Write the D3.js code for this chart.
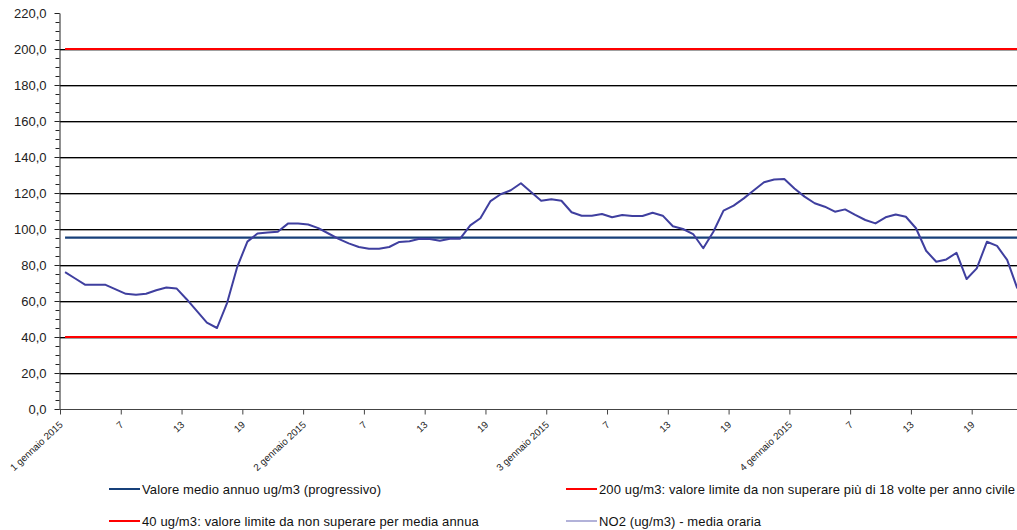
<!DOCTYPE html>
<html>
<head>
<meta charset="utf-8">
<script src="https://cdn.jsdelivr.net/npm/d3@7"></script>
<style>
  html, body { margin: 0; padding: 0; background: #fff; }
  svg { display: block; font-family: "Liberation Sans", Arial, sans-serif; }
</style>
</head>
<body>
<svg id="chart" width="1017" height="530"></svg>
<script>
// ---- Data ----
const days = [1, 2, 3, 4];
const hoursPerDay = 24;
const tickHours = [1, 7, 13, 19];
const yTicks = [0, 20, 40, 60, 80, 100, 120, 140, 160, 180, 200, 220];

// NO2 hourly average (ug/m3), from 1 gennaio 2015 h1 onward
const no2 = [
  76, 72.5, 69, 69, 69, 66.5, 64, 63.5, 64, 66, 67.5, 67,
  61, 54.5, 48, 45, 59, 79, 93, 97.5, 98, 98.5, 103, 103,
  102.5, 100.5, 97.5, 94.5, 92, 90, 89, 89, 90, 92.8, 93.2, 94.6,
  94.5, 93.5, 94.6, 94.6, 102, 106, 115.5, 119.3, 121.5, 125.4, 120.5, 115.7,
  116.5, 115.7, 109.3, 107.4, 107.4, 108.3, 106.5, 107.8, 107.2, 107.2, 109, 107.4,
  101.5, 100, 97.2, 89.3, 98.5, 110.2, 113, 117, 121.5, 126, 127.5, 127.8,
  122.5, 118, 114.3, 112.4, 109.6, 110.9, 107.8, 105, 103.1, 106.5, 108.1, 106.8,
  100.4, 87.9, 81.8, 83.1, 86.8, 72.2, 78.1, 92.9, 90.6, 82.8, 67
];
const annualMean = 95.2;     // Valore medio annuo (progressivo)
const limitHourly = 200;     // 200 ug/m3 limit
const limitAnnual = 40;      // 40 ug/m3 limit

const legendItems = [
  { label: "Valore medio annuo ug/m3 (progressivo)", color: "#17407a", width: 2 },
  { label: "200 ug/m3: valore limite da non superare più di 18 volte per anno civile", color: "#ff0000", width: 2 },
  { label: "40 ug/m3: valore limite da non superare per media annua", color: "#ff0000", width: 2 },
  { label: "NO2 (ug/m3)  - media oraria", color: "#7f7fc0", width: 1.2 }
];

// ---- Layout ----
const svg = d3.select("#chart");
const plotLeft = 60, plotTop = 13, plotBottom = 409;
const nCat = days.length * hoursPerDay;
const catW = 10.13;

const x = d3.scaleLinear().domain([0, nCat]).range([plotLeft, plotLeft + nCat * catW]);
const y = d3.scaleLinear().domain([0, 220]).range([plotBottom, plotTop]);

svg.append("rect").attr("width", 1017).attr("height", 530).attr("fill", "#fff");

// gridlines
const grid = svg.append("g");
yTicks.filter(d => d > 0 && d < 220).forEach(d => {
  grid.append("line").attr("x1", plotLeft).attr("x2", 1017)
    .attr("y1", Math.round(y(d)) + 1.5).attr("y2", Math.round(y(d)) + 1.5)
    .attr("stroke", "#a0a0a0").attr("stroke-width", 1);
  grid.append("line").attr("x1", plotLeft).attr("x2", 1017)
    .attr("y1", Math.round(y(d)) + 0.5).attr("y2", Math.round(y(d)) + 0.5)
    .attr("stroke", "#000").attr("stroke-width", 1);
});

// series
const idx = d3.range(no2.length + 1);
const constLine = v => d3.line().x(i => x(i + 0.5)).y(() => y(v))(idx);

svg.append("path").attr("d", constLine(limitAnnual))
  .attr("fill", "none").attr("stroke", "#ff0000").attr("stroke-width", 2);
svg.append("path").attr("d", constLine(limitHourly))
  .attr("fill", "none").attr("stroke", "#ff0000").attr("stroke-width", 2);
svg.append("path").attr("d", constLine(annualMean))
  .attr("fill", "none").attr("stroke", "#17407a").attr("stroke-width", 2.4);

const no2Line = d3.line().x((d, i) => x(i + 0.5)).y(d => y(d));
svg.append("path").datum(no2).attr("d", no2Line)
  .attr("fill", "none").attr("stroke", "#3f3f9f").attr("stroke-width", 2)
  .attr("stroke-linejoin", "round");

// y axis (major + minor)
const fmt = d => d.toFixed(1).replace(".", ",");
const yMinor = svg.append("g").attr("transform", `translate(${plotLeft - 0.5},0)`)
  .call(d3.axisLeft(y).tickValues(d3.range(0, 221, 5)).tickSize(4).tickFormat(""));
yMinor.select(".domain").remove();
yMinor.selectAll("line").attr("stroke", "#222");

const yAxis = svg.append("g").attr("transform", `translate(${plotLeft - 0.5},0)`)
  .call(d3.axisLeft(y).tickValues(yTicks).tickSize(5).tickPadding(8).tickSizeOuter(0).tickFormat(fmt));
yAxis.select(".domain").attr("stroke", "#222");
yAxis.selectAll("line").attr("stroke", "#222");
yAxis.selectAll("text").attr("font-size", 13).attr("fill", "#222")
  .attr("font-family", "'Liberation Sans', Arial, sans-serif");

// x axis
const xTickVals = d3.range(0, nCat, 6).filter(v => x(v) <= 1017);
const xLabel = v => {
  const d = Math.floor(v / hoursPerDay);
  const h = tickHours[(v % hoursPerDay) / 6];
  return h === 1 ? `${days[d]} gennaio 2015` : `${h}`;
};
const xAxis = svg.append("g").attr("transform", `translate(0,${plotBottom + 0.5})`)
  .call(d3.axisBottom(x).tickValues(xTickVals).tickSize(5).tickSizeOuter(0).tickFormat(xLabel));
xAxis.select(".domain").attr("stroke", "#444").attr("d", `M${plotLeft},0H1017`);
xAxis.selectAll("line").attr("stroke", "#444");
xAxis.selectAll("text")
  .attr("x", 0).attr("y", 0).attr("dy", 0)
  .attr("text-anchor", "end")
  .attr("transform", "translate(3,16) rotate(-43)")
  .attr("font-size", 9.8).attr("fill", "#222")
  .attr("font-family", "'Liberation Sans', Arial, sans-serif");

// legend
const legPos = [
  { lx: 109, ty: 489 }, { lx: 566, ty: 489 },
  { lx: 109, ty: 521 }, { lx: 566, ty: 521 }
];
legendItems.forEach((it, i) => {
  const p = legPos[i];
  svg.append("line").attr("x1", p.lx).attr("x2", p.lx + 31)
    .attr("y1", p.ty).attr("y2", p.ty)
    .attr("stroke", it.color).attr("stroke-width", it.width);
  svg.append("text").attr("x", p.lx + 33).attr("y", p.ty + 4.5)
    .attr("font-size", 13).attr("letter-spacing", 0.12)
    .attr("fill", "#111").text(it.label);
});
</script>
</body>
</html>
